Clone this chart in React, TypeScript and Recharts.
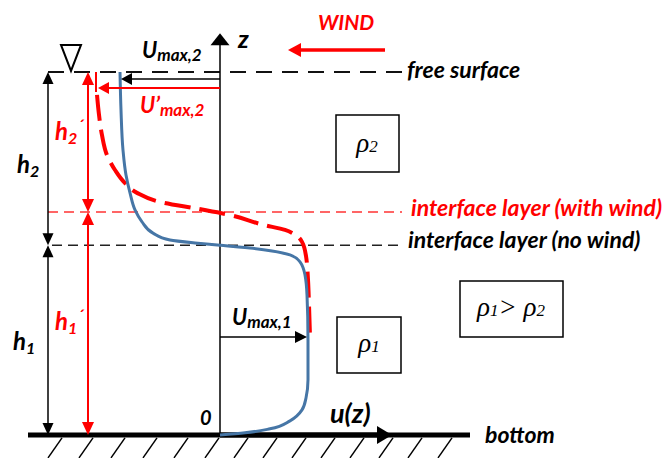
import React from 'react'
import {
  LineChart,
  Line,
  XAxis,
  YAxis,
  ReferenceLine,
  ReferenceDot,
  ReferenceArea,
} from 'recharts'

const W = 668
const H = 458

// u: horizontal velocity (arbitrary units), z: depth normalised by total depth
const X_DOMAIN: [number, number] = [-22, 44.8]
const Y_DOMAIN: [number, number] = [-0.0634, 1.1983]

// velocity profile, two-layer flow without wind
const profileNoWind = [
  { u: -10, z: 1.0 },
  { u: -9.9, z: 0.895 },
  { u: -9.7, z: 0.785 },
  { u: -9.4, z: 0.716 },
  { u: -9.0, z: 0.667 },
  { u: -8.5, z: 0.62 },
  { u: -7.8, z: 0.587 },
  { u: -6.7, z: 0.556 },
  { u: -5.0, z: 0.537 },
  { u: -2.5, z: 0.529 },
  { u: 0, z: 0.523 },
  { u: 3.0, z: 0.515 },
  { u: 5.2, z: 0.507 },
  { u: 7.0, z: 0.496 },
  { u: 8.0, z: 0.477 },
  { u: 8.5, z: 0.441 },
  { u: 8.7, z: 0.386 },
  { u: 8.8, z: 0.262 },
  { u: 8.8, z: 0.152 },
  { u: 8.6, z: 0.102 },
  { u: 8.2, z: 0.069 },
  { u: 7.0, z: 0.039 },
  { u: 5.0, z: 0.017 },
  { u: 2.5, z: 0.006 },
  { u: 0, z: 0 },
]

// velocity profile with wind blowing against the upper layer
const profileWind = [
  { u: -12.3, z: 0.937 },
  { u: -12.1, z: 0.882 },
  { u: -11.8, z: 0.826 },
  { u: -11.3, z: 0.771 },
  { u: -10.5, z: 0.73 },
  { u: -9.5, z: 0.694 },
  { u: -8.3, z: 0.667 },
  { u: -6.0, z: 0.642 },
  { u: -2.2, z: 0.623 },
  { u: 1.0, z: 0.606 },
  { u: 4.3, z: 0.579 },
  { u: 6.5, z: 0.565 },
  { u: 7.5, z: 0.552 },
  { u: 8.2, z: 0.532 },
  { u: 8.6, z: 0.493 },
  { u: 8.8, z: 0.427 },
  { u: 8.9, z: 0.358 },
  { u: 9.0, z: 0.27 },
]

const Z_SURFACE = 1
const Z_IFACE_WIND = 0.614
const Z_IFACE_CALM = 0.523
const Z_BOTTOM = 0

const U_MAX_1 = 8.8
const U_MAX_2 = -10
const U_MAX_2_WIND = -12.4

const HATCH_U = [-15.8, -12.7, -9.5, -6.3, -3.2, -0.1, 2.8, 5.7, 8.6, 11.5, 14.4, 17.3, 20.2, 23.2]

const BLUE = '#4676A6'
const RED = '#FF0000'
const FONT = "Lato, 'Open Sans', sans-serif"
const GREEK = "'Liberation Serif', 'DejaVu Serif', serif"

type ArrowOpts = {
  color: string
  width: number
  head?: 'end' | 'start' | 'both' | 'none'
  len?: number
  half?: number
  dash?: string
}

const arrow = (o: ArrowOpts) => (p: any) => {
  const { x1, y1, x2, y2 } = p
  const dx = x2 - x1
  const dy = y2 - y1
  const d = Math.hypot(dx, dy) || 1
  const ux = dx / d
  const uy = dy / d
  const len = o.len ?? 12
  const half = o.half ?? 5.5
  const head = o.head ?? 'end'
  const tri = (tx: number, ty: number, sx: number, sy: number) => {
    const bx = tx - sx * len
    const by = ty - sy * len
    return `${tx},${ty} ${bx - sy * half},${by + sx * half} ${bx + sy * half},${by - sx * half}`
  }
  const heads: string[] = []
  let ax = x1
  let ay = y1
  let bx = x2
  let by = y2
  if (head === 'end' || head === 'both') {
    heads.push(tri(x2, y2, ux, uy))
    bx = x2 - ux * len * 0.7
    by = y2 - uy * len * 0.7
  }
  if (head === 'start' || head === 'both') {
    heads.push(tri(x1, y1, -ux, -uy))
    ax = x1 + ux * len * 0.7
    ay = y1 + uy * len * 0.7
  }
  return (
    <g>
      <line
        x1={ax}
        y1={ay}
        x2={bx}
        y2={by}
        stroke={o.color}
        strokeWidth={o.width}
        strokeDasharray={o.dash}
      />
      {heads.map((pts, i) => (
        <polygon key={i} points={pts} fill={o.color} />
      ))}
    </g>
  )
}

const note =
  (children: React.ReactNode, color = '#000', size = 23, anchor: 'start' | 'middle' = 'start') =>
  (p: any) => (
    <text
      x={p.cx}
      y={p.cy}
      fill={color}
      fontFamily={FONT}
      fontWeight="bold"
      fontStyle="italic"
      fontSize={size}
      textAnchor={anchor}
    >
      {children}
    </text>
  )

const rho = (children: React.ReactNode) => (p: any) => (
  <text x={p.cx} y={p.cy} fill="#000" fontFamily={GREEK} fontStyle="italic" fontSize={27} textAnchor="middle">
    {children}
  </text>
)

const nabla = (p: any) => (
  <polygon
    points={`${p.cx - 10},${p.cy - 27} ${p.cx + 10},${p.cy - 27} ${p.cx},${p.cy - 1}`}
    fill="none"
    stroke="#000"
    strokeWidth={2}
  />
)

const sub = (t: string, size = 16, dy = 4) => (
  <tspan fontSize={size} dy={dy}>
    {t}
  </tspan>
)

export default function App() {
  const seg = (u1: number, z1: number, u2: number, z2: number) => [
    { x: u1, y: z1 },
    { x: u2, y: z2 },
  ]
  return (
    <div style={{ position: 'absolute', left: 0, top: 0, width: W, height: H, background: '#fff' }}>
      <LineChart width={W} height={H} margin={{ top: 0, right: 0, bottom: 0, left: 0 }}>
        <XAxis type="number" dataKey="u" domain={X_DOMAIN} hide allowDataOverflow />
        <YAxis type="number" domain={Y_DOMAIN} hide allowDataOverflow />

        {/* layer levels */}
        <ReferenceLine
          ifOverflow="visible"
          segment={seg(-17.2, Z_SURFACE, 18.2, Z_SURFACE)}
          shape={arrow({ color: '#111', width: 2, head: 'none', dash: '16 10' })}
        />
        <ReferenceLine
          ifOverflow="visible"
          segment={seg(-17.2, Z_IFACE_WIND, 18.2, Z_IFACE_WIND)}
          shape={arrow({ color: '#FF3333', width: 1.5, head: 'none', dash: '10 6' })}
        />
        <ReferenceLine
          ifOverflow="visible"
          segment={seg(-16.8, Z_IFACE_CALM, 18.2, Z_IFACE_CALM)}
          shape={arrow({ color: '#222', width: 1.5, head: 'none', dash: '10 6' })}
        />

        {/* z axis */}
        <ReferenceLine
          ifOverflow="visible"
          segment={seg(0, Z_BOTTOM, 0, 1.107)}
          shape={arrow({ color: '#000', width: 1.5, len: 12, half: 9.5 })}
        />

        {/* bottom with hatching */}
        {HATCH_U.map((u) => (
          <ReferenceLine
            key={u}
            ifOverflow="visible"
            segment={seg(u, -0.008, u - 1.4, -0.063)}
            shape={arrow({ color: '#000', width: 1.5, head: 'none' })}
          />
        ))}
        <ReferenceLine
          ifOverflow="visible"
          segment={seg(-19.2, Z_BOTTOM, 25, Z_BOTTOM)}
          shape={arrow({ color: '#000', width: 5, head: 'none' })}
        />
        <ReferenceLine
          ifOverflow="visible"
          segment={seg(0, Z_BOTTOM, 17.2, Z_BOTTOM)}
          shape={arrow({ color: '#000', width: 5, len: 15, half: 9 })}
        />

        {/* velocity profiles */}
        <Line
          data={profileWind}
          dataKey="z"
          type="monotoneY"
          stroke={RED}
          strokeWidth={4}
          strokeDasharray="26 9"
          dot={false}
          activeDot={false}
          isAnimationActive={false}
        />
        <Line
          data={profileNoWind}
          dataKey="z"
          type="monotoneY"
          stroke={BLUE}
          strokeWidth={3}
          dot={false}
          activeDot={false}
          isAnimationActive={false}
        />

        {/* layer thickness arrows */}
        <ReferenceLine
          ifOverflow="visible"
          segment={seg(-17.2, Z_SURFACE, -17.2, Z_IFACE_CALM)}
          shape={arrow({ color: '#000', width: 1.5, head: 'both', len: 12, half: 5.5 })}
        />
        <ReferenceLine
          ifOverflow="visible"
          segment={seg(-17.2, Z_IFACE_CALM, -17.2, Z_BOTTOM)}
          shape={arrow({ color: '#000', width: 1.5, head: 'both', len: 12, half: 5.5 })}
        />
        <ReferenceLine
          ifOverflow="visible"
          segment={seg(-13.2, Z_SURFACE, -13.2, Z_IFACE_WIND)}
          shape={arrow({ color: RED, width: 2, head: 'both', len: 13, half: 6 })}
        />
        <ReferenceLine
          ifOverflow="visible"
          segment={seg(-13.2, Z_IFACE_WIND, -13.2, Z_BOTTOM)}
          shape={arrow({ color: RED, width: 2, head: 'both', len: 13, half: 6 })}
        />

        {/* max velocity arrows */}
        <ReferenceLine
          ifOverflow="visible"
          segment={seg(0, 0.9807, U_MAX_2 + 0.1, 0.9807)}
          shape={arrow({ color: '#000', width: 1.5, len: 11, half: 6 })}
        />
        <ReferenceLine
          ifOverflow="visible"
          segment={seg(0, 0.956, U_MAX_2_WIND + 0.2, 0.956)}
          shape={arrow({ color: RED, width: 2, len: 11, half: 6 })}
        />
        <ReferenceLine
          ifOverflow="visible"
          segment={seg(U_MAX_2_WIND, Z_SURFACE, U_MAX_2_WIND, 0.945)}
          shape={arrow({ color: RED, width: 2, head: 'none' })}
        />
        <ReferenceLine
          ifOverflow="visible"
          segment={seg(0, 0.27, U_MAX_1 - 0.1, 0.27)}
          shape={arrow({ color: '#000', width: 1.5, len: 12, half: 6 })}
        />

        {/* wind */}
        <ReferenceLine
          ifOverflow="visible"
          segment={seg(16.5, 1.0606, 6.8, 1.0606)}
          shape={arrow({ color: RED, width: 3.5, len: 13, half: 7 })}
        />

        {/* density boxes */}
        <ReferenceArea ifOverflow="visible" x1={11.6} x2={17.9} y1={0.7245} y2={0.8815} fill="none" stroke="#000" strokeWidth={1.5} />
        <ReferenceArea ifOverflow="visible" x1={11.7} x2={18.1} y1={0.171} y2={0.325} fill="none" stroke="#000" strokeWidth={1.5} />
        <ReferenceArea ifOverflow="visible" x1={24.0} x2={34.3} y1={0.27} y2={0.424} fill="none" stroke="#000" strokeWidth={1.5} />

        {/* annotations */}
        <ReferenceDot ifOverflow="visible" x={-14.9} y={Z_SURFACE} shape={nabla} />
        <ReferenceDot ifOverflow="visible" x={1.8} y={1.066} shape={note('z', '#000', 25)} />
        <ReferenceDot ifOverflow="visible" x={9.8} y={1.116} shape={note('WIND', RED, 21)} />
        <ReferenceDot ifOverflow="visible" x={18.7} y={0.983} shape={note('free surface')} />
        <ReferenceDot ifOverflow="visible" x={19.1} y={0.603} shape={note('interface layer (with wind)', RED)} />
        <ReferenceDot ifOverflow="visible" x={18.8} y={0.515} shape={note('interface layer (no wind)')} />
        <ReferenceDot ifOverflow="visible" x={26.5} y={-0.022} shape={note('bottom')} />
        <ReferenceDot ifOverflow="visible" x={11} y={0.033} shape={note('u(z)', '#000', 27)} />
        <ReferenceDot ifOverflow="visible" x={-2.0} y={0.0275} shape={note('0', '#000', 20)} />
        <ReferenceDot
          ifOverflow="visible"
          x={-20.3}
          y={0.722}
          shape={note(<>h{sub('2')}</>, '#000', 24)}
        />
        <ReferenceDot
          ifOverflow="visible"
          x={-20.7}
          y={0.234}
          shape={note(<>h{sub('1')}</>, '#000', 24)}
        />
        <ReferenceDot
          ifOverflow="visible"
          x={-16.5}
          y={0.813}
          shape={note(<>h{sub('2')}{sub('´', 17, -12)}</>, RED, 24)}
        />
        <ReferenceDot
          ifOverflow="visible"
          x={-16.5}
          y={0.289}
          shape={note(<>h{sub('1')}{sub('´', 17, -12)}</>, RED, 24)}
        />
        <ReferenceDot
          ifOverflow="visible"
          x={-7.8}
          y={1.0386}
          shape={note(<>U{sub('max,2', 17, 3)}</>, '#000', 22)}
        />
        <ReferenceDot
          ifOverflow="visible"
          x={-8.0}
          y={0.887}
          shape={note(<>U’{sub('max,2', 17, 3)}</>, RED, 22)}
        />
        <ReferenceDot
          ifOverflow="visible"
          x={1.2}
          y={0.303}
          shape={note(<>U{sub('max,1', 17, 3)}</>, '#000', 22)}
        />
        <ReferenceDot ifOverflow="visible" x={14.7} y={0.78} shape={rho(<>ρ{sub('2', 17, 0)}</>)} />
        <ReferenceDot ifOverflow="visible" x={14.9} y={0.229} shape={rho(<>ρ{sub('1', 17, 0)}</>)} />
        <ReferenceDot
          ifOverflow="visible"
          x={29.1}
          y={0.328}
          shape={rho(<>ρ{sub('1', 17, 0)}&gt; ρ{sub('2', 17, 0)}</>)}
        />
      </LineChart>
    </div>
  )
}
